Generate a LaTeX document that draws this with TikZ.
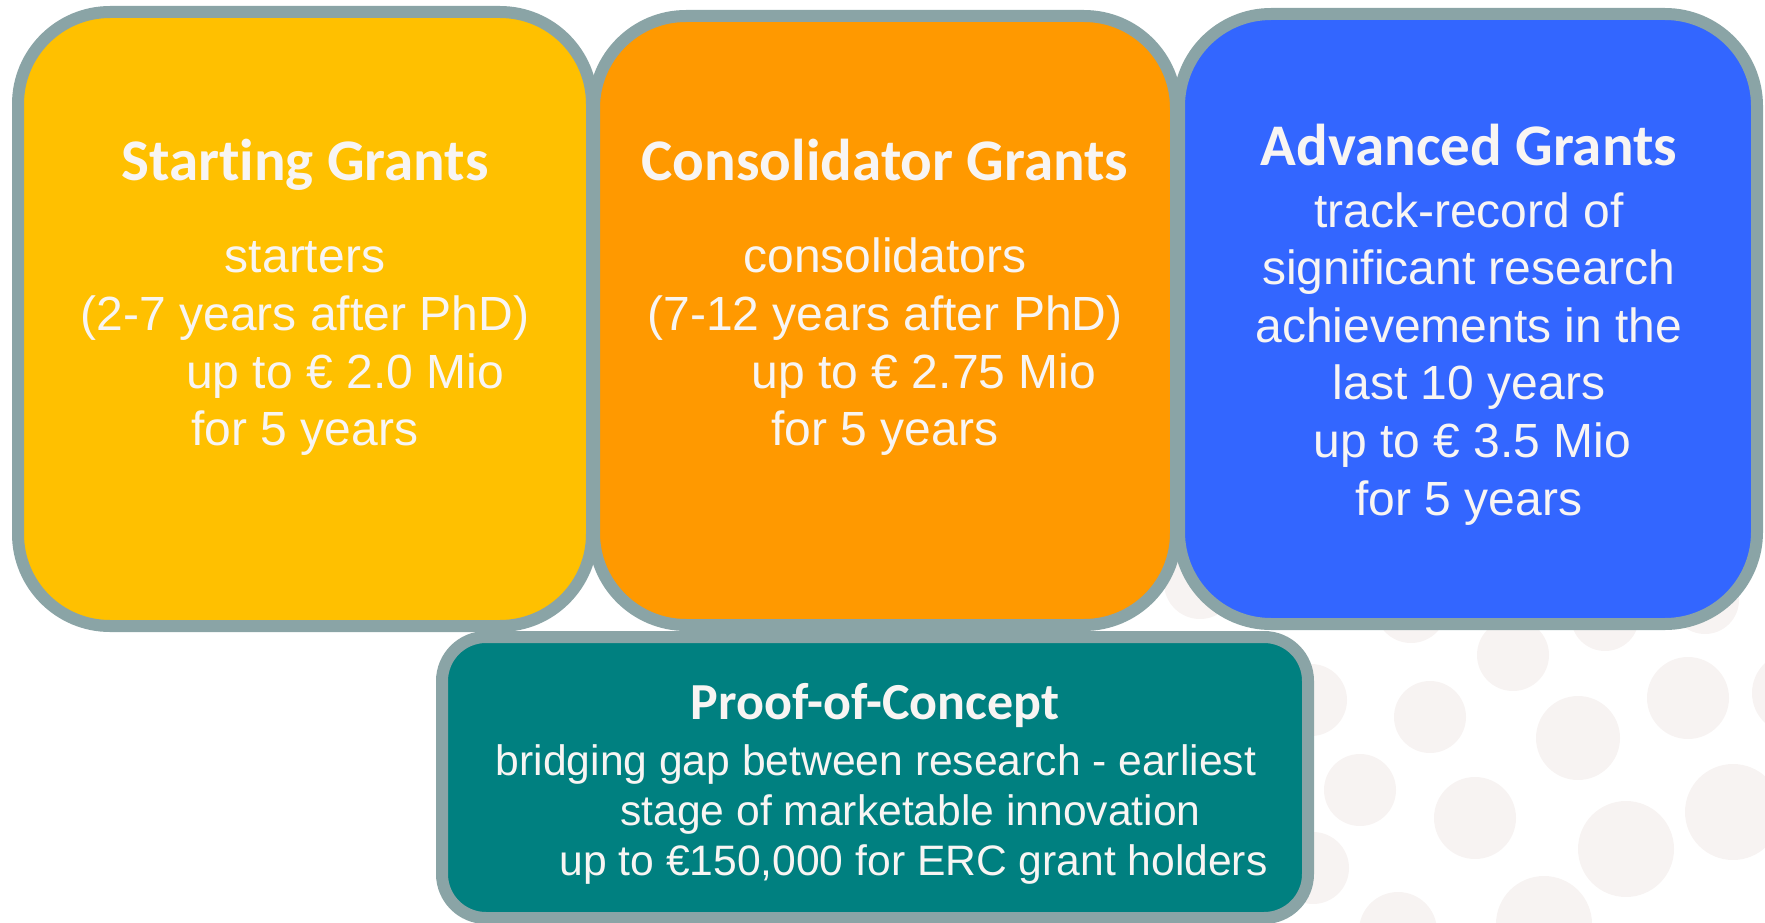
\documentclass[tikz,border=0pt]{standalone}
\usepackage{fontspec}
\setmainfont{Liberation Sans}
\newfontfamily\titlefont{Carlito}[Ligatures={NoCommon}]
\definecolor{bordc}{HTML}{8AA4A6}
\definecolor{yel}{HTML}{FFC000}
\definecolor{ora}{HTML}{FF9900}
\definecolor{blu}{HTML}{3366FF}
\definecolor{tea}{HTML}{008080}
\definecolor{dotc}{HTML}{F7F3F2}
\definecolor{txt}{HTML}{F8F5F3}
\begin{document}
\begin{tikzpicture}[x=1pt,y=-1pt,
  grantbox/.style={draw=bordc, line width=12pt, rounded corners=92pt, inner sep=0pt, outer sep=0pt},
  pocbox/.style={draw=bordc, line width=12pt, rounded corners=44pt, inner sep=0pt, outer sep=0pt},
  titletext/.style={text=txt, font=\titlefont\bfseries\fontsize{59}{64}\selectfont, anchor=base, inner sep=0pt},
  bodytext/.style={text=txt, font=\fontsize{48}{57.6}\selectfont, align=center, anchor=base, inner sep=0pt},
  poctitle/.style={text=txt, font=\titlefont\bfseries\fontsize{52}{56}\selectfont, anchor=base, inner sep=0pt},
  pocbody/.style={text=txt, font=\fontsize{42.6}{50}\selectfont, align=center, anchor=base, inner sep=0pt},
  bgdot/.style={fill=dotc, draw=none}]
\useasboundingbox (0,0) rectangle (1765,923);
\clip (0,0) rectangle (1765,923);
% background dots
\fill[bgdot] (1430,717) circle (36);
\fill[bgdot] (1360,790) circle (36);
\fill[bgdot] (1475,818) circle (41);
\fill[bgdot] (1513,655) circle (36);
\fill[bgdot] (1311,700) circle (36);
\fill[bgdot] (1313,868) circle (36);
\fill[bgdot] (1398,931) circle (39);
\fill[bgdot] (1411,607) circle (36);
\fill[bgdot] (1200,583) circle (36);
\fill[bgdot] (1578,738) circle (42);
\fill[bgdot] (1688,698) circle (41);
\fill[bgdot] (1793,693) circle (41);
\fill[bgdot] (1626,849) circle (48);
\fill[bgdot] (1733,812) circle (48);
\fill[bgdot] (1544,924) circle (48);
\fill[bgdot] (1605,617) circle (34);
\fill[bgdot] (1705,600) circle (34);
% boxes
\node[grantbox, fill=yel, minimum width=574pt, minimum height=614pt] (sg) at (305,319) {};
\node[grantbox, fill=ora, minimum width=582pt, minimum height=609pt] (cg) at (885,320.5) {};
\node[grantbox, fill=blu, minimum width=578pt, minimum height=610pt] (ag) at (1468,319) {};
\node[pocbox, fill=tea, minimum width=866pt, minimum height=281pt] (poc) at (875,777.5) {};
% texts (body nodes anchored at the baseline of their last line)
\node[titletext] (sgt) at (305,180) {Starting Grants};
\node[bodytext] (sgb) at (305,445.7) {starters\\(2-7 years after PhD)\\\hspace*{80pt}up to € 2.0 Mio\\for 5 years};
\node[titletext] (cgt) at (885,180) {Consolidator Grants};
\node[bodytext] (cgb) at (885,445.7) {consolidators\\(7-12 years after PhD)\\\hspace*{78pt}up to € 2.75 Mio\\for 5 years};
\node[titletext] (agt) at (1469,165) {Advanced Grants};
\node[bodytext] (agb) at (1469,515) {track-record of\\significant research\\achievements in the\\last 10 years\\\hspace*{7pt}up to € 3.5 Mio\\for 5 years};
\node[poctitle] (poct) at (875,719) {Proof-of-Concept};
\node[pocbody] (pocb) at (876,875) {bridging gap between research - earliest\\\hspace*{69pt}stage of marketable innovation\\\hspace*{75pt}up to €150,000 for ERC grant holders};
\end{tikzpicture}
\end{document}
